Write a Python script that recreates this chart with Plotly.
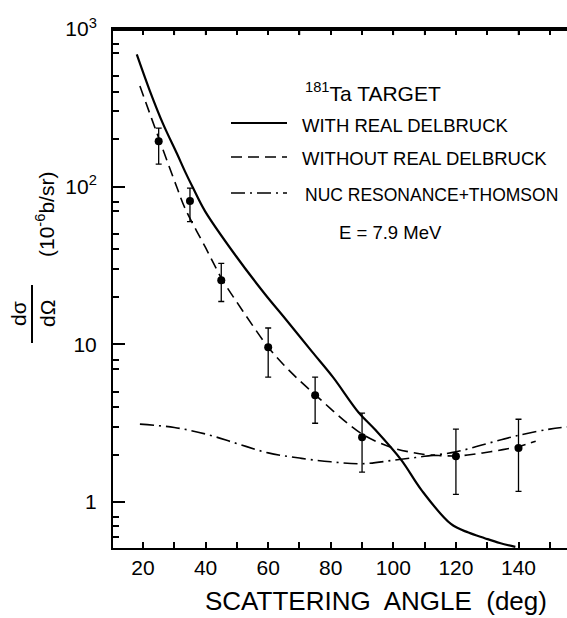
import plotly.graph_objects as go

# ---- data ----
ang_pts = [25, 35, 45, 60, 75, 90, 120, 140]
xs_pts = [194, 81, 25.5, 9.6, 4.75, 2.58, 1.95, 2.2]
err_hi = [235, 98, 32.6, 12.7, 6.2, 3.66, 2.9, 3.35]
err_lo = [139, 60, 18.7, 6.2, 3.16, 1.55, 1.12, 1.17]

ang_with = [18, 22.2, 26.4, 30.9, 33.4, 36, 39.8, 49.4, 59, 65.4, 74, 80.7,
            88.9, 94.3, 102.5, 109, 118.4, 124, 129.2, 134, 139]
xs_with = [690, 404, 250, 161, 125, 98, 70, 37, 20.8, 14.6, 9.0, 6.2,
           3.7, 2.86, 1.85, 1.19, 0.726, 0.64, 0.59, 0.55, 0.52]

ang_without = [19, 22, 25.4, 30.9, 33.4, 40, 45.2, 50, 55, 60, 65, 70, 75, 80,
               85, 90, 95, 100, 105, 110, 115, 120, 125, 130, 135, 140, 145.5]
xs_without = [435, 297, 194, 98, 73, 41, 26, 18.5, 13.2, 9.6, 7.4, 5.9, 4.8,
              3.9, 3.2, 2.7, 2.4, 2.2, 2.08, 2.0, 1.97, 1.96, 2.0, 2.07, 2.15,
              2.25, 2.43]

ang_nuc = [19, 30, 40, 50, 60, 70, 80, 90, 100, 110, 120, 130, 140, 150, 156]
xs_nuc = [3.12, 2.97, 2.7, 2.35, 2.05, 1.9, 1.8, 1.75, 1.84, 1.95, 2.08, 2.35,
          2.65, 2.9, 3.0]

x_tickvals = [20, 30, 40, 50, 60, 70, 80, 90, 100, 110, 120, 130, 140, 150]
x_ticktext = ["20", "", "40", "", "60", "", "80", "", "100", "", "120", "", "140", ""]
y_tickvals = [1, 10, 100, 1000]
y_ticktext = ["1", "10", "10<sup>2</sup>", "10<sup>3</sup>"]
y_minor = [0.6, 0.7, 0.8, 2, 3, 4, 5, 7, 8, 20, 30, 40, 50, 70, 80,
           200, 300, 400, 500, 700, 800]

FONT = "Liberation Sans"
W, H = 567, 618
L, R, T, B = 113, 0, 29, 70
pw, ph = W - L - R, H - T - B
X_RANGE = [10.4, 155.5]
Y_TOP = 1000


def px(x):
    return (x - L) / pw


def py(y):
    return (H - B - y) / ph


fig = go.Figure()
fig.add_trace(go.Scatter(x=ang_with, y=xs_with, mode="lines", line_shape="spline",
                         line=dict(color="black", width=2.2), showlegend=False))
fig.add_trace(go.Scatter(x=ang_without, y=xs_without, mode="lines", line_shape="spline",
                         line=dict(color="black", width=1.6, dash="11px,6px"),
                         showlegend=False))
fig.add_trace(go.Scatter(x=ang_nuc, y=xs_nuc, mode="lines", line_shape="spline",
                         line=dict(color="black", width=1.6, dash="14px,5px,2px,5px"),
                         showlegend=False))
fig.add_trace(go.Scatter(
    x=ang_pts, y=xs_pts, mode="markers",
    marker=dict(color="black", size=8),
    error_y=dict(type="data", symmetric=False,
                 array=[h - v for h, v in zip(err_hi, xs_pts)],
                 arrayminus=[v - l for l, v in zip(err_lo, xs_pts)],
                 color="black", thickness=1.3, width=3),
    showlegend=False))

# top frame line and inward ticks, placed through the axes' own scales
fig.add_shape(type="line", xref="x domain", yref="y", x0=0, x1=1,
              y0=Y_TOP, y1=Y_TOP, line=dict(color="black", width=4),
              layer="above")
for tv in x_tickvals:
    fig.add_shape(type="line", xref="x", yref="y", x0=tv, x1=tv,
                  y0=Y_TOP, y1=Y_TOP * 0.915, line=dict(color="black", width=1.5),
                  layer="above")

# legend samples
leg = [(123, "solid", 2.2), (157, "11px,6px", 1.6), (193, "14px,5px,2px,5px", 1.6)]
for yy, d, w in leg:
    fig.add_shape(type="line", xref="paper", yref="paper",
                  x0=px(231), x1=px(287), y0=py(yy), y1=py(yy),
                  line=dict(color="black", width=w, dash=d))

ann = [
    ("<sup>181</sup>Ta TARGET", 303, 92, 21),
    ("WITH REAL DELBRUCK", 300, 125, 18.5),
    ("WITHOUT REAL DELBRUCK", 300, 158, 18.5),
    ("NUC RESONANCE+THOMSON", 303, 195, 17.5),
    ("E = 7.9 MeV", 337, 232, 18.5),
]
for txt, x, y, s in ann:
    fig.add_annotation(text=txt, xref="paper", yref="paper", x=px(x), y=py(y),
                       xanchor="left", yanchor="middle", showarrow=False,
                       font=dict(family=FONT, size=s, color="black"))

# axis titles
fig.add_annotation(text="SCATTERING  ANGLE  (deg)", xref="paper", yref="paper",
                   x=px(376), y=py(601), xanchor="center", yanchor="middle",
                   showarrow=False, font=dict(family=FONT, size=26, color="black"))
fig.add_annotation(text="(10<sup>-6</sup>b/sr)", xref="paper", yref="paper",
                   x=px(45), y=py(215), textangle=-90, xanchor="center",
                   yanchor="middle", showarrow=False,
                   font=dict(family=FONT, size=21, color="black"))
fig.add_annotation(text="dσ", xref="paper", yref="paper",
                   x=px(18), y=py(314), textangle=-90, xanchor="center",
                   yanchor="middle", showarrow=False,
                   font=dict(family=FONT, size=21, color="black"))
fig.add_annotation(text="dΩ", xref="paper", yref="paper",
                   x=px(47), y=py(314), textangle=-90, xanchor="center",
                   yanchor="middle", showarrow=False,
                   font=dict(family=FONT, size=21, color="black"))
fig.add_shape(type="line", xref="paper", yref="paper",
              x0=px(32), x1=px(32), y0=py(285), y1=py(343),
              line=dict(color="black", width=2))

fig.update_layout(
    width=W, height=H, margin=dict(l=L, r=R, t=T, b=B),
    paper_bgcolor="white", plot_bgcolor="white",
    font=dict(family=FONT, color="black"),
    xaxis=dict(range=X_RANGE, tickvals=x_tickvals, ticktext=x_ticktext,
               ticks="inside", ticklen=6, tickwidth=1.5, tickcolor="black",
               showline=True, linewidth=2, linecolor="black", mirror="ticks",
               showgrid=False, zeroline=False,
               tickfont=dict(family=FONT, size=21, color="black")),
    yaxis=dict(type="log", range=[-0.2915, 3.0], tickvals=y_tickvals,
               ticktext=y_ticktext, ticks="inside", ticklen=12, tickwidth=1.5,
               tickcolor="black", showline=True, linewidth=2, linecolor="black",
               showgrid=False, zeroline=False, ticklabelstandoff=10,
               minor=dict(tickvals=y_minor, ticks="inside", ticklen=6,
                          tickwidth=1.5, tickcolor="black", showgrid=False),
               tickfont=dict(family=FONT, size=21, color="black")),
)

fig.write_html("out.html", config={"displayModeBar": False},
               post_script="document.body.style.margin='0';document.body.style.padding='0';")
